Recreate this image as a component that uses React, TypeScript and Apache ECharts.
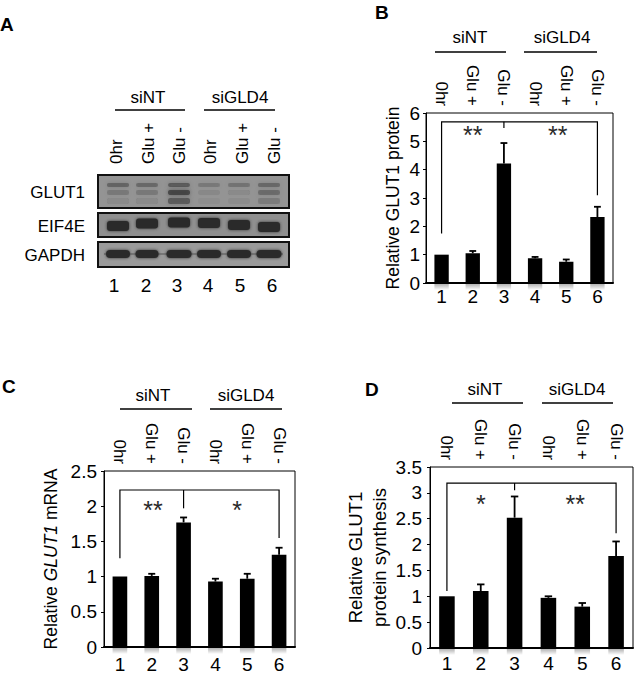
import React, { useEffect, useRef } from 'react';
import * as echarts from 'echarts';

const FONT = '"Liberation Sans", Arial, Helvetica, sans-serif';

// ---- data ----
const lanes = ['1', '2', '3', '4', '5', '6'];
const conditions = ['0hr', 'Glu +', 'Glu -', '0hr', 'Glu +', 'Glu -'];
const groups = ['siNT', 'siGLD4'];
const blotRows = ['GLUT1', 'EIF4E', 'GAPDH'];

const proteinMean = [1.0, 1.05, 4.22, 0.87, 0.75, 2.33];
const proteinErr = [0, 0.08, 0.72, 0.05, 0.08, 0.36];
const mrnaMean = [1.0, 1.01, 1.77, 0.93, 0.97, 1.31];
const mrnaErr = [0, 0.03, 0.07, 0.04, 0.07, 0.1];
const synthMean = [1.0, 1.1, 2.52, 0.97, 0.8, 1.78];
const synthErr = [0, 0.13, 0.41, 0.03, 0.07, 0.28];

// bracket: [level, lane1 drop end, lane3 drop end, lane6 drop end]
const bracketB = [5.69, 1.75, 5.47, 3.1];
const bracketC = [2.23, 1.26, 1.97, 1.55];
const bracketD = [3.19, 1.1, 3.05, 2.22];

// stars: [text, category position (0-based index), value]
const starsB: [string, number, number][] = [['**', 1.0, 5.43], ['**', 3.73, 5.43]];
const starsC: [string, number, number][] = [['**', 1.04, 2.03], ['*', 3.68, 2.03]];
const starsD: [string, number, number][] = [['*', 1.0, 2.9], ['**', 3.79, 2.9]];

// blot band darkness per lane
const glutBand1 = [0.38, 0.32, 0.45, 0.22, 0.26, 0.36];
const glutBand2 = [0.22, 0.22, 0.6, 0.08, 0.1, 0.3];
const glutBand3 = [0.1, 0.1, 0.45, 0.04, 0.05, 0.2];
const eifBandY = [226, 223.5, 222.5, 223, 225, 227];
const gapdhBandW = [24, 23, 25, 24, 24, 25];

const BLACK = '#000';

function buildPanel(
  gi: number,
  mean: number[],
  err: number[],
  br: number[],
  stars: [string, number, number][],
  yMax: number,
  yInt: number,
  yName: string,
  nameGap: number,
  nameSize: number,
  tickMargin: number,
  catMargin: number,
  rich?: any
) {
  const xb = gi * 2;
  const xAxes = [
    {
      gridIndex: gi,
      type: 'category',
      data: lanes,
      position: 'bottom',
      axisLine: { show: true, lineStyle: { color: BLACK, width: 2 } },
      axisTick: { show: false },
      axisLabel: { color: BLACK, fontSize: 19, fontFamily: FONT, margin: catMargin, interval: 0 },
      splitLine: { show: false },
    },
    {
      gridIndex: gi,
      type: 'category',
      data: conditions,
      position: 'top',
      axisLine: { show: false },
      axisTick: { show: false },
      axisLabel: { color: BLACK, fontSize: 17, fontFamily: FONT, rotate: 90, margin: 7, interval: 0 },
      splitLine: { show: false },
    },
  ];
  const yAxis = {
    gridIndex: gi,
    type: 'value',
    min: 0,
    max: yMax,
    interval: yInt,
    name: yName,
    nameLocation: 'middle',
    nameGap,
    nameRotate: 90,
    nameTextStyle: rich
      ? { color: BLACK, fontSize: nameSize, fontFamily: FONT, rich }
      : { color: BLACK, fontSize: nameSize, fontFamily: FONT, lineHeight: 24 },
    axisLine: { show: true, lineStyle: { color: BLACK, width: 1 } },
    axisTick: { show: true, length: 3, lineStyle: { color: BLACK, width: 1 } },
    axisLabel: { color: BLACK, fontSize: 19, fontFamily: FONT, margin: tickMargin },
    splitLine: { show: false },
  };
  const series: any[] = [
    {
      type: 'custom',
      xAxisIndex: xb,
      yAxisIndex: gi,
      data: mean.map((m, i) => [i, 0]),
      z: 1,
      renderItem: (params: any, api: any) => {
        const i = api.value(0);
        const p = api.coord([i, 0]);
        const w = api.size([1, 0])[0] * 0.46;
        return {
          type: 'rect',
          shape: { x: p[0] - w / 2, y: p[1] + 1, width: w, height: 6 },
          style: {
            fill: new echarts.graphic.LinearGradient(0, 0, 0, 1, [
              { offset: 0, color: 'rgba(0,0,0,0.3)' },
              { offset: 1, color: 'rgba(0,0,0,0)' },
            ]),
          },
        };
      },
    },
    {
      type: 'bar',
      xAxisIndex: xb,
      yAxisIndex: gi,
      data: mean,
      barWidth: '46%',
      itemStyle: { color: BLACK },
      z: 2,
    },
    {
      type: 'custom',
      xAxisIndex: xb,
      yAxisIndex: gi,
      data: mean.map((m, i) => [i, m, err[i]]),
      z: 3,
      renderItem: (params: any, api: any) => {
        const i = api.value(0);
        const m = api.value(1);
        const e = api.value(2);
        if (!e) return { type: 'group', children: [] };
        const p0 = api.coord([i, m]);
        const p1 = api.coord([i, m + e]);
        const cap = api.size([1, 0])[0] * 0.11;
        return {
          type: 'group',
          children: [
            { type: 'line', shape: { x1: p0[0], y1: p0[1], x2: p1[0], y2: p1[1] }, style: { stroke: BLACK, lineWidth: 1.8 } },
            { type: 'line', shape: { x1: p1[0] - cap, y1: p1[1], x2: p1[0] + cap, y2: p1[1] }, style: { stroke: BLACK, lineWidth: 1.8 } },
          ],
        };
      },
    },
    {
      type: 'custom',
      xAxisIndex: xb,
      yAxisIndex: gi,
      data: [[0, br[0]]],
      z: 4,
      renderItem: (params: any, api: any) => {
        const [lvl, d1, d3, d6] = br;
        const a1 = api.coord([0, d1]);
        const a = api.coord([0, lvl]);
        const c = api.coord([5, lvl]);
        const c1 = api.coord([5, d6]);
        const m = api.coord([2, lvl]);
        const m1 = api.coord([2, d3]);
        const bw = api.size([1, 0])[0];
        const children: any[] = [
          { type: 'polyline', shape: { points: [a1, a, c, c1] }, style: { stroke: BLACK, lineWidth: 1.2, fill: 'none' } },
          { type: 'line', shape: { x1: m[0], y1: m[1], x2: m1[0], y2: m1[1] }, style: { stroke: BLACK, lineWidth: 1.2 } },
        ];
        stars.forEach(([t, pos, v]) => {
          const fl = Math.floor(pos);
          const p = api.coord([fl, v]);
          children.push({
            type: 'text',
            x: p[0] + (pos - fl) * bw,
            y: p[1] + 6,
            style: { text: t, fontSize: 25, fontFamily: FONT, fill: '#2a2a2a', align: 'center', verticalAlign: 'middle' },
          });
        });
        return { type: 'group', children };
      },
    },
  ];
  return { xAxes, yAxis, series };
}

function groupHeader(cx1: number, cx2: number, ty: number, lx: [number, number][], ly: number) {
  const els: any[] = [];
  [cx1, cx2].forEach((cx, k) => {
    els.push({
      type: 'text',
      x: cx,
      y: ty,
      style: { text: groups[k], fontSize: 17, fontFamily: FONT, fill: BLACK, align: 'center', verticalAlign: 'middle' },
    });
  });
  lx.forEach(([x1, x2]) => {
    els.push({ type: 'line', shape: { x1, y1: ly, x2, y2: ly }, style: { stroke: BLACK, lineWidth: 1.5 } });
  });
  return els;
}

function panelLetter(t: string, x: number, y: number) {
  return {
    type: 'text',
    x,
    y,
    style: { text: t, fontSize: 19, fontWeight: 'bold', fontFamily: FONT, fill: BLACK, align: 'left', verticalAlign: 'middle' },
  };
}

function blotGraphics() {
  const els: any[] = [];
  const numX = [114, 146, 177, 208, 240, 272];
  const bandX = [118, 147, 179, 209, 239, 269];
  conditions.forEach((c, i) => {
    els.push({
      type: 'text',
      x: numX[i] + 2,
      y: 164,
      rotation: Math.PI / 2,
      style: { text: c, fontSize: 17, fontFamily: FONT, fill: BLACK, align: 'left', verticalAlign: 'middle' },
    });
  });
  lanes.forEach((l, i) => {
    els.push({
      type: 'text',
      x: numX[i],
      y: 285,
      style: { text: l, fontSize: 19, fontFamily: FONT, fill: BLACK, align: 'center', verticalAlign: 'middle' },
    });
  });
  const rowY = [192, 226, 255];
  blotRows.forEach((r, i) => {
    els.push({
      type: 'text',
      x: 85,
      y: rowY[i],
      style: { text: r, fontSize: 17, fontFamily: FONT, fill: BLACK, align: 'right', verticalAlign: 'middle' },
    });
  });
  // GLUT1 box
  els.push({ type: 'rect', shape: { x: 98, y: 175, width: 191, height: 33 }, style: { fill: '#949494', stroke: 'none' } });
  bandX.forEach((x, i) => {
    const mk = (y: number, h: number, a: number) => ({
      type: 'rect',
      shape: { x: x - 11, y, width: 22, height: h, r: 2 },
      style: { fill: `rgba(35,35,35,${a})`, shadowBlur: 4, shadowColor: `rgba(35,35,35,${a})` },
    });
    els.push(mk(183, 4, glutBand1[i]));
    els.push(mk(190, 5, glutBand2[i]));
    els.push(mk(198, 6, glutBand3[i]));
  });
  els.push({ type: 'rect', shape: { x: 98, y: 175, width: 191, height: 33 }, style: { fill: 'none', stroke: '#111', lineWidth: 2 } });
  // EIF4E box
  els.push({ type: 'rect', shape: { x: 98, y: 213, width: 191, height: 24 }, style: { fill: '#8f8f8f', stroke: 'none' } });
  bandX.forEach((x, i) => {
    els.push({
      type: 'rect',
      shape: { x: x - 11, y: eifBandY[i] - 5, width: 22, height: 10, r: 3 },
      style: { fill: '#2a2a2a', shadowBlur: 3, shadowColor: '#333' },
    });
  });
  els.push({ type: 'rect', shape: { x: 98, y: 213, width: 191, height: 24 }, style: { fill: 'none', stroke: '#111', lineWidth: 2 } });
  // GAPDH box
  els.push({ type: 'rect', shape: { x: 98, y: 242, width: 191, height: 25 }, style: { fill: '#9a9a9a', stroke: 'none' } });
  els.push({ type: 'line', shape: { x1: 104, y1: 254, x2: 283, y2: 254 }, style: { stroke: '#555', lineWidth: 1 } });
  bandX.forEach((x, i) => {
    const w = gapdhBandW[i];
    els.push({
      type: 'rect',
      shape: { x: x - w / 2, y: 250, width: w, height: 8, r: 4 },
      style: { fill: '#2c2c2c', shadowBlur: 3, shadowColor: '#333' },
    });
  });
  els.push({ type: 'rect', shape: { x: 98, y: 242, width: 191, height: 25 }, style: { fill: 'none', stroke: '#111', lineWidth: 2 } });
  return els;
}

export default function App() {
  const ref = useRef<HTMLDivElement>(null);
  useEffect(() => {
    if (!ref.current) return;
    const chart = echarts.init(ref.current, undefined, { renderer: 'svg' });
    const pB = buildPanel(0, proteinMean, proteinErr, bracketB, starsB, 6, 1, 'Relative GLUT1 protein', 21, 17.5, 6, 4);
    const pC = buildPanel(
      1, mrnaMean, mrnaErr, bracketC, starsC, 2.5, 0.5,
      '{n|Relative }{i|GLUT1}{n| mRNA}', 44, 17.5, 7, 8,
      {
        n: { fontSize: 17.5, fontFamily: FONT, color: BLACK },
        i: { fontSize: 17.5, fontFamily: FONT, color: BLACK, fontStyle: 'italic' },
      }
    );
    const pD = buildPanel(2, synthMean, synthErr, bracketD, starsD, 3.5, 0.5, 'Relative GLUT1\nprotein synthesis', 38, 18.5, 8, 6);

    const gridStyle = { show: true, borderColor: BLACK, borderWidth: 1, backgroundColor: 'transparent' };
    const option: any = {
      animation: false,
      backgroundColor: '#fff',
      grid: [
        { left: 426, top: 113, width: 187, height: 170, ...gridStyle },
        { left: 104, top: 471, width: 191, height: 176, ...gridStyle },
        { left: 430, top: 467, width: 203, height: 181, ...gridStyle },
      ],
      xAxis: [...pB.xAxes, ...pC.xAxes, ...pD.xAxes],
      yAxis: [pB.yAxis, pC.yAxis, pD.yAxis],
      series: [...pB.series, ...pC.series, ...pD.series],
      graphic: [
        panelLetter('A', 0, 24),
        panelLetter('B', 375, 12),
        panelLetter('C', 2, 386),
        panelLetter('D', 365, 389),
        ...groupHeader(148, 240, 97, [[115, 185], [204, 275]], 110),
        ...groupHeader(470, 562, 37, [[435, 506], [524, 597]], 52),
        ...groupHeader(153, 246, 395, [[120, 192], [210, 282]], 409),
        ...groupHeader(485, 577, 389, [[452, 523], [542, 613]], 403),
        ...blotGraphics(),
      ],
    };
    chart.setOption(option);
    return () => chart.dispose();
  }, []);
  return (
    <div
      ref={ref}
      style={{ position: 'absolute', left: 0, top: 0, width: 642, height: 676, background: '#fff' }}
    />
  );
}
